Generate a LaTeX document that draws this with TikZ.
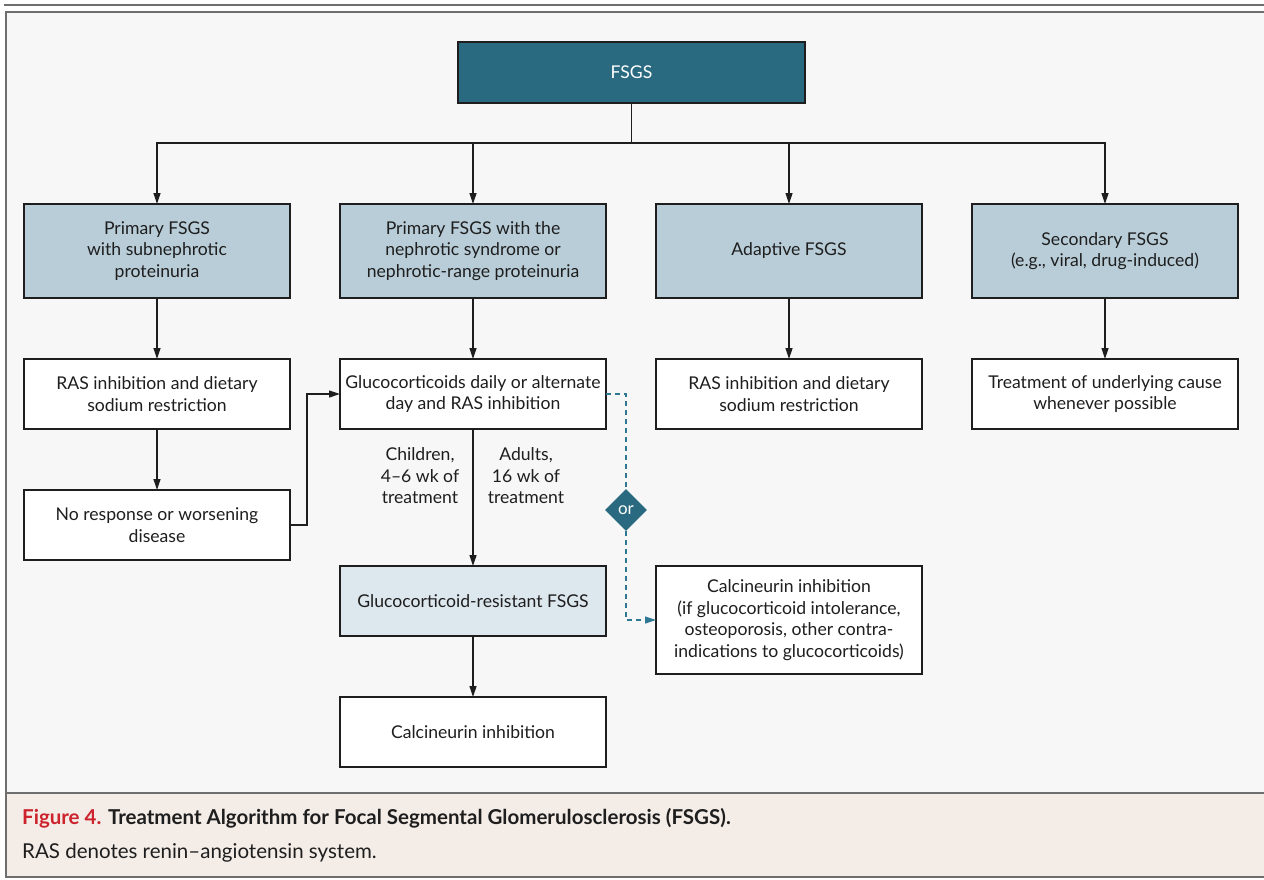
\documentclass[tikz,border=0pt]{standalone}
\usepackage{fontspec}
\setmainfont{Lato}
\usepackage{graphicx}
\usetikzlibrary{arrows.meta,shapes.geometric}
\definecolor{teal1}{RGB}{42,106,128}
\definecolor{dashteal}{RGB}{47,120,147}
\definecolor{lblue}{RGB}{185,205,216}
\definecolor{llblue}{RGB}{221,231,238}
\definecolor{bgray}{RGB}{247,247,247}
\definecolor{capbg}{RGB}{243,236,231}
\definecolor{framegray}{RGB}{110,110,110}
\definecolor{nejmred}{RGB}{205,35,45}
\definecolor{ink}{RGB}{30,30,30}
\tikzset{
  base/.style={draw=ink, line width=1.2pt, inner sep=0pt, outer sep=0pt, align=center,
    minimum width=266pt, text=ink, font=\fontsize{17.6}{21.5}\selectfont},
  catbox/.style={base, fill=lblue, minimum height=94pt},
  stepbox/.style={base, fill=white, minimum height=70pt},
  resbox/.style={base, fill=llblue, minimum height=70pt},
  topbox/.style={base, fill=teal1, text=white, minimum width=347pt, minimum height=61pt},
  orbox/.style={diamond, fill=teal1, text=white, inner sep=0pt, minimum width=42pt, minimum height=42pt,
    font=\fontsize{17}{18}\selectfont},
  lbl/.style={align=center, text=ink, inner sep=0pt, font=\fontsize{17.6}{21.5}\selectfont},
  arr/.style={draw=ink, line width=1.2pt, -{Triangle[length=11pt,width=7pt]}},
  ln/.style={draw=ink, line width=1.2pt},
  darr/.style={draw=dashteal, line width=1.2pt, dash pattern=on 5pt off 4pt, -{Triangle[length=11pt,width=7pt]}},
  dln/.style={draw=dashteal, line width=1.2pt, dash pattern=on 5pt off 4pt},
  captext/.style={anchor=west, inner sep=0pt, text=ink, font=\fontsize{20.5}{24}\selectfont},
}
\begin{document}
\begin{tikzpicture}[x=1pt,y=-1pt]
\useasboundingbox (0,0) rectangle (1264,879);
% background and frame
\fill[white] (0,0) rectangle (1264,879);
\fill[bgray] (6,12) rectangle (1266,793);
\fill[capbg] (6,793) rectangle (1266,877);
\draw[framegray, line width=2.5pt] (4,5) -- (1264,5);
\draw[framegray, line width=2pt] (1266,12) -- (6,12) -- (6,877) -- (1266,877);
\draw[framegray, line width=2pt] (6,793) -- (1266,793);

% nodes
\node[topbox] (fsgs) at (631.5,72.5) {FSGS};
\node[catbox] (c1) at (157,251) {Primary FSGS\\with subnephrotic\\proteinuria};
\node[catbox] (c2) at (473,251) {Primary FSGS with the\\nephrotic syndrome or\\nephrotic-range proteinuria};
\node[catbox] (c3) at (789,251) {Adaptive FSGS};
\node[catbox] (c4) at (1105,251) {Secondary FSGS\\(e.g., viral, drug-induced)};

\node[stepbox] (r1) at (157,394) {RAS inhibition and dietary\\sodium restriction};
\node[stepbox] (g) at (473,394) {Glucocorticoids daily or alternate\\day and RAS inhibition};
\node[stepbox] (r3) at (789,394) {RAS inhibition and dietary\\sodium restriction};
\node[stepbox] (t4) at (1105,394) {Treatment of underlying cause\\whenever possible};

\node[stepbox] (nr) at (157,525) {No response or worsening\\disease};
\node[resbox] (gr) at (473,601) {Glucocorticoid-resistant FSGS};
\node[stepbox] (ci) at (473,732) {Calcineurin inhibition};
\node[base, fill=white, minimum height=108pt] (cc) at (789,620) {Calcineurin inhibition\\(if glucocorticoid intolerance,\\osteoporosis, other contra-\\indications to glucocorticoids)};

\node[orbox] (or) at (626,510) {or};

\node[lbl] (kids) at (420,476) {Children,\\4--6 wk of\\treatment};
\node[lbl] (adults) at (526,476) {Adults,\\16 wk of\\treatment};

% connectors
\coordinate (jn) at (631.5,143);
\draw[ln] (fsgs.south) -- (jn);
\draw[arr] (jn) -| (c1.north);
\draw[arr] (jn) -| (c2.north);
\draw[arr] (jn) -| (c3.north);
\draw[arr] (jn) -| (c4.north);

\draw[arr] (c1) -- (r1);
\draw[arr] (c2) -- (g);
\draw[arr] (c3) -- (r3);
\draw[arr] (c4) -- (t4);
\draw[arr] (r1) -- (nr);
\draw[arr] (nr.east) -- ([xshift=17pt]nr.east) |- (g.west);
\draw[arr] (g) -- (gr);
\draw[arr] (gr) -- (ci);

\coordinate (dk) at (626,394);
\draw[dln] (g.east) -- (dk) -- (or.north);
\draw[darr] (or.south) |- (cc.west);

% caption
\node[captext] (cap1) at (22,818)
  {\bfseries\textcolor{nejmred}{Figure 4.} Treatment Algorithm for Focal Segmental Glomerulosclerosis (FSGS).};
\node[captext] (cap2) at (22,853)
  {RAS denotes renin--angiotensin system.};
\end{tikzpicture}
\end{document}
